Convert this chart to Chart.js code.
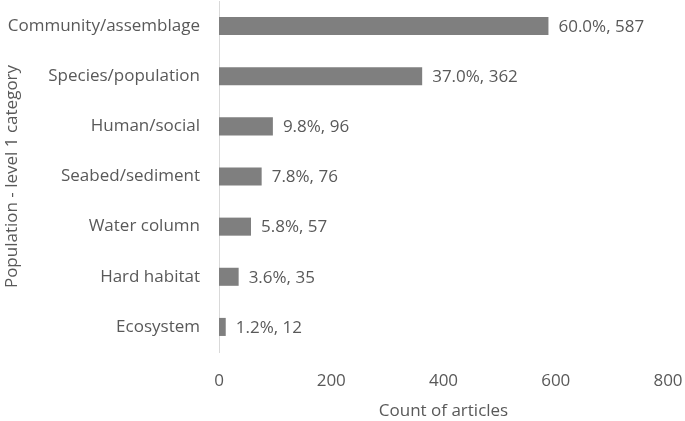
<!DOCTYPE html>
<html>
<head>
<meta charset="utf-8">
<script src="https://cdn.jsdelivr.net/npm/chart.js@4.4.0/dist/chart.umd.min.js"></script>
<style>
  html, body { margin: 0; padding: 0; background: #fff; }
  #wrap { width: 685px; height: 421px; }
</style>
</head>
<body>
<div id="wrap"><canvas id="barChart"></canvas></div>
<script>
const categories = [
  "Community/assemblage",
  "Species/population",
  "Human/social",
  "Seabed/sediment",
  "Water column",
  "Hard habitat",
  "Ecosystem"
];
const counts = [587, 362, 96, 76, 57, 35, 12];
const percents = ["60.0%", "37.0%", "9.8%", "7.8%", "5.8%", "3.6%", "1.2%"];
const xTicks = [0, 200, 400, 600, 800];

const textColor = "#595959";
const fontFamily = "'Open Sans', 'Liberation Sans', sans-serif";
const fontSize = 17;

// labels written right after each bar end
const barLabels = {
  id: "barLabels",
  afterDatasetsDraw(chart) {
    const ctx = chart.ctx;
    const meta = chart.getDatasetMeta(0);
    ctx.save();
    ctx.fillStyle = textColor;
    ctx.font = fontSize + "px " + fontFamily;
    ctx.textBaseline = "middle";
    ctx.textAlign = "left";
    meta.data.forEach((bar, i) => {
      ctx.fillText(percents[i] + ", " + counts[i], bar.x + 10, bar.y + 1);
    });
    ctx.restore();
  }
};

new Chart(document.getElementById("barChart").getContext("2d"), {
  type: "bar",
  data: {
    labels: categories,
    datasets: [{
      data: counts,
      backgroundColor: "#7f7f7f",
      borderWidth: 0,
      barPercentage: 0.72,
      categoryPercentage: 0.5
    }]
  },
  options: {
    indexAxis: "y",
    responsive: true,
    maintainAspectRatio: false,
    animation: false,
    layout: { padding: { left: 2, right: 17, top: 1, bottom: 0 } },
    plugins: {
      legend: { display: false },
      tooltip: { enabled: false }
    },
    scales: {
      x: {
        min: 0,
        max: 800,
        afterBuildTicks(scale) {
          scale.ticks = xTicks.map(v => ({ value: v }));
        },
        grid: { display: false },
        border: { display: false },
        ticks: {
          color: textColor,
          font: { size: fontSize, family: fontFamily },
          padding: 11
        },
        title: {
          display: true,
          text: "Count of articles",
          color: textColor,
          font: { size: fontSize, family: fontFamily },
          padding: { top: 4, bottom: 0 }
        },
        afterFit(scale) {
          scale.height = 69;
          scale.paddingLeft = 0;
          scale.paddingRight = 0;
        }
      },
      y: {
        grid: { display: false },
        border: { display: true, color: "#d9d9d9", width: 1 },
        ticks: {
          color: textColor,
          font: { size: fontSize, family: fontFamily },
          padding: 11
        },
        title: {
          display: true,
          text: "Population - level 1 category",
          color: textColor,
          font: { size: fontSize, family: fontFamily },
          padding: { top: 0, bottom: 2 }
        },
        afterFit(scale) {
          scale.width = 217;
          scale.paddingTop = 0;
          scale.paddingBottom = 0;
        }
      }
    }
  },
  plugins: [barLabels]
});
</script>
</body>
</html>
